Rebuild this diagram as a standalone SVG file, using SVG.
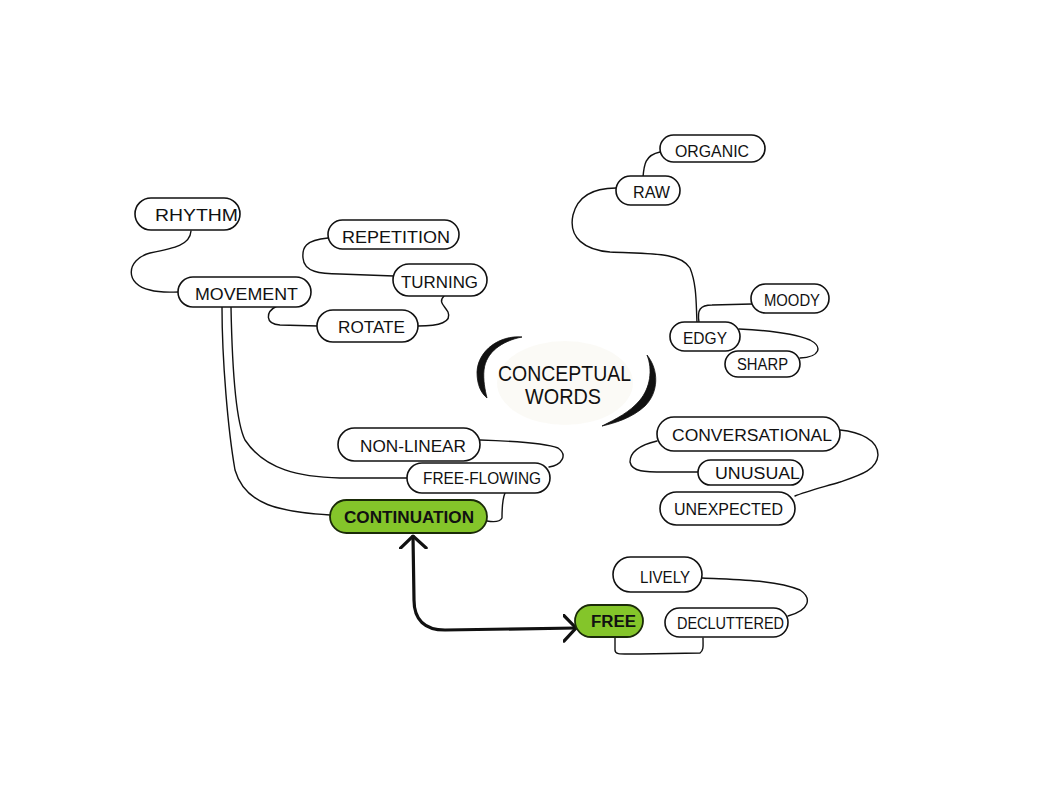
<svg xmlns="http://www.w3.org/2000/svg" width="1050" height="786" viewBox="0 0 1050 786">
<style>
.pill{fill:#fff;stroke:#111;stroke-width:1.6}
.green{fill:#84c52a;stroke:#1a2a08;stroke-width:1.8}
.lbl{font-family:"Liberation Sans",Arial,sans-serif;font-size:16px;fill:#111;text-anchor:start}
.bold{font-weight:bold}
.big{font-size:22px}
.con{fill:none;stroke:#111;stroke-width:1.4;stroke-linecap:round}
.thick{fill:none;stroke:#111;stroke-width:3.2;stroke-linecap:round}
.brush{fill:#111;stroke:#111;stroke-width:0.8}
</style>
<defs>
<marker id="ah" viewBox="0 0 10 20" refX="9" refY="10" markerWidth="4.5" markerHeight="9" orient="auto-start-reverse" markerUnits="strokeWidth">
<path d="M0.5,1 L9,10 L0.5,19" fill="none" stroke="#111" stroke-width="2.2" stroke-linecap="round" stroke-linejoin="miter"/>
</marker>
</defs>
<rect width="1050" height="786" fill="#fff"/>

<g id="connectors">
<path class="con" d="M191,231 C190,245 175,248 150,253 C125,260 125,285 150,290 C160,293 170,292 179,292"/>
<path class="con" d="M328,238 C305,240 302,248 303,258 C304,272 320,274 340,274 L394,276"/>
<path class="con" d="M277,306 C265,312 265,324 280,325 L318,326"/>
<path class="con" d="M418,326 C440,326 452,322 448,312 C444,305 438,302 444,296"/>
<path class="con" d="M222,307 C222,360 228,430 235,470 C245,505 280,512 330,515"/>
<path class="con" d="M231,307 C232,360 235,420 245,440 C265,470 300,477 340,478 L408,478"/>
<path class="con" d="M480,440 C510,441 545,443 558,448 C568,455 562,465 549,467"/>
<path class="con" d="M505,493 C502,500 502,510 502,518 C500,522 493,522 487,521"/>
<path class="con" d="M643,177 C644,165 645,155 660,152"/>
<path class="con" d="M616,188 C595,188 578,195 573,215 C568,238 585,250 610,252 C650,254 680,252 690,268 C697,285 696,305 697,322"/>
<path class="con" d="M699,322 C697,310 700,305 712,305 L752,304"/>
<path class="con" d="M739,329 C760,330 790,332 810,340 C823,347 820,357 800,358"/>
<path class="con" d="M657,441 C640,445 630,452 630,462 C632,472 645,472 665,472 L698,472"/>
<path class="con" d="M840,430 C860,432 878,440 878,455 C877,470 860,475 840,482 C820,488 805,492 795,496"/>
<path class="con" d="M702,578 C740,580 775,580 800,590 C812,598 810,610 788,616"/>
<path class="con" d="M615,637 L615,650 C615,655 620,654 640,654 L700,653 C704,650 703,645 703,638"/>
<path class="thick" d="M413,536 L414,600 C414,620 425,630 445,630 L576,628" marker-start="url(#ah)" marker-end="url(#ah)"/>
</g>

<g id="center">
<ellipse cx="565" cy="383" rx="68" ry="42" fill="#f7f5ec" opacity="0.45"/>
<path class="brush" d="M522,337 C500,335 478,350 477,372 C477,385 481,393 487,398 C485,390 483,380 484,370 C486,352 502,341 522,337 Z"/>
<path class="brush" d="M647,355 C659,370 659,392 645,406 C632,418 615,423 602,426 C616,419 630,412 640,400 C650,388 653,370 647,355 Z"/>
<text class="lbl big" x="498" y="381" textLength="133" lengthAdjust="spacingAndGlyphs">CONCEPTUAL</text>
<text class="lbl big" x="525" y="404" textLength="76" lengthAdjust="spacingAndGlyphs">WORDS</text>
</g>

<g id="rhythm"><rect class="pill" x="135" y="198" width="105" height="32" rx="16"/><text class="lbl" x="155" y="221" textLength="83" lengthAdjust="spacingAndGlyphs">RHYTHM</text></g>
<g id="repetition"><rect class="pill" x="328" y="220" width="131" height="29" rx="14.5"/><text class="lbl" x="342" y="243" textLength="108" lengthAdjust="spacingAndGlyphs">REPETITION</text></g>
<g id="movement"><rect class="pill" x="178" y="277" width="133" height="30" rx="15"/><text class="lbl" x="195" y="300" textLength="103" lengthAdjust="spacingAndGlyphs">MOVEMENT</text></g>
<g id="turning"><rect class="pill" x="393" y="264" width="94" height="32" rx="16"/><text class="lbl" x="401" y="288" textLength="77" lengthAdjust="spacingAndGlyphs">TURNING</text></g>
<g id="rotate"><rect class="pill" x="317" y="310" width="101" height="32" rx="16"/><text class="lbl" x="338" y="333" textLength="67" lengthAdjust="spacingAndGlyphs">ROTATE</text></g>
<g id="organic"><rect class="pill" x="660" y="135" width="105" height="27" rx="13.5"/><text class="lbl" x="675" y="157" textLength="74" lengthAdjust="spacingAndGlyphs">ORGANIC</text></g>
<g id="raw"><rect class="pill" x="616" y="176" width="64" height="29" rx="14.5"/><text class="lbl" x="633" y="198" textLength="37" lengthAdjust="spacingAndGlyphs">RAW</text></g>
<g id="moody"><rect class="pill" x="751" y="284" width="78" height="29" rx="14.5"/><text class="lbl" x="764" y="306" textLength="56" lengthAdjust="spacingAndGlyphs">MOODY</text></g>
<g id="edgy"><rect class="pill" x="670" y="322" width="70" height="29" rx="14.5"/><text class="lbl" x="683" y="344" textLength="44" lengthAdjust="spacingAndGlyphs">EDGY</text></g>
<g id="sharp"><rect class="pill" x="725" y="351" width="75" height="26" rx="13"/><text class="lbl" x="737" y="370" textLength="51" lengthAdjust="spacingAndGlyphs">SHARP</text></g>
<g id="nonlinear"><rect class="pill" x="338" y="428" width="142" height="33" rx="16.5"/><text class="lbl" x="360" y="452" textLength="106" lengthAdjust="spacingAndGlyphs">NON-LINEAR</text></g>
<g id="freeflowing"><rect class="pill" x="407" y="463" width="143" height="30" rx="15"/><text class="lbl" x="423" y="484" textLength="118" lengthAdjust="spacingAndGlyphs">FREE-FLOWING</text></g>
<g id="continuation"><rect class="green" x="330" y="500" width="157" height="33" rx="16.5"/><text class="lbl bold" x="344" y="523" textLength="130" lengthAdjust="spacingAndGlyphs">CONTINUATION</text></g>
<g id="conversational"><rect class="pill" x="657" y="417" width="183" height="34" rx="17"/><text class="lbl" x="672" y="441" textLength="160" lengthAdjust="spacingAndGlyphs">CONVERSATIONAL</text></g>
<g id="unusual"><rect class="pill" x="698" y="460" width="105" height="25" rx="12.5"/><text class="lbl" x="715" y="479" textLength="85" lengthAdjust="spacingAndGlyphs">UNUSUAL</text></g>
<g id="unexpected"><rect class="pill" x="660" y="492" width="135" height="33" rx="16.5"/><text class="lbl" x="674" y="515" textLength="109" lengthAdjust="spacingAndGlyphs">UNEXPECTED</text></g>
<g id="lively"><rect class="pill" x="613" y="557" width="89" height="35" rx="17.5"/><text class="lbl" x="640" y="583" textLength="50" lengthAdjust="spacingAndGlyphs">LIVELY</text></g>
<g id="free"><rect class="green" x="575" y="605" width="68" height="32" rx="16"/><text class="lbl bold" x="591" y="627" textLength="45" lengthAdjust="spacingAndGlyphs">FREE</text></g>
<g id="decluttered"><rect class="pill" x="665" y="608" width="123" height="29" rx="14.5"/><text class="lbl" x="677" y="629" textLength="107" lengthAdjust="spacingAndGlyphs">DECLUTTERED</text></g>
</svg>
